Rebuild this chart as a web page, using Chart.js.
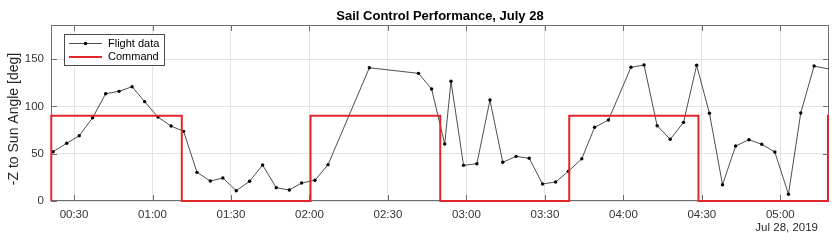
<!DOCTYPE html>
<html><head><meta charset="utf-8">
<script src="https://cdn.jsdelivr.net/npm/chart.js@4"></script>
<style>html,body{margin:0;padding:0;background:#fff}canvas{display:block}</style>
</head><body>
<canvas id="c" width="840" height="246"></canvas>
<script>
// ---- data (time in minutes after 00:00, Jul 28 2019) ----
const flightTimes  = [22.0,27.2,32.0,37.1,42.1,47.2,52.2,57.0,62.1,67.1,71.9,77.0,82.1,86.9,92.0,97.1,102.1,107.3,112.3,117.0,122.1,127.1,142.9,161.7,166.7,171.7,174.1,178.9,184.0,189.0,193.9,199.0,204.0,209.1,214.1,219.0,224.1,229.0,234.3,242.9,247.9,252.9,257.9,263.0,268.0,272.9,277.9,282.9,288.0,292.9,297.9,303.1,307.8,312.9,320.0];
const flightAngles = [52.1,61.0,69.0,88.0,113.4,115.9,120.8,105.0,88.7,79.2,73.6,30.3,21.1,24.3,10.9,20.8,38.0,14.1,11.6,19.0,21.9,38.4,140.8,134.9,118.3,60.2,126.5,37.7,39.4,106.7,40.9,47.2,45.1,18.0,20.1,31.4,44.7,77.9,85.6,141.3,143.7,79.6,65.2,83.1,143.4,92.7,17.2,58.1,64.8,59.9,51.8,7.1,93.0,142.6,138.7];
const commandTimes  = [21.3,21.3,71.2,120.4,170.0,219.3,268.7,318.2,318.6];
const commandAngles = [0,90,0,90,0,90,0,90,90];
const xTickValues = [30,60,90,120,150,180,210,240,270,300];
const xTickLabels = ['00:30','01:00','01:30','02:00','02:30','03:00','03:30','04:00','04:30','05:00'];
const yTickValues = [0,50,100,150];
const xLimits = [21.2, 318.6];
const yLimits = [0, 186];
const titleText = 'Sail Control Performance, July 28';
const yLabelText = '-Z to Sun Angle [deg]';
const dateText = 'Jul 28, 2019';
const seriesNames = ['Flight data','Command'];

const FONT = '"Liberation Sans", Arial, Helvetica, sans-serif';
Chart.defaults.font.family = FONT;

const flightData = flightTimes.map((t,i)=>({x:t,y:flightAngles[i]}));
const commandData = commandTimes.map((t,i)=>({x:t,y:commandAngles[i]}));

const deco = {
  id:'deco',
  beforeDatasetsDraw(chart){
    const ctx = chart.ctx, a = chart.chartArea;
    const xs = chart.scales.x, ys = chart.scales.y;
    ctx.save();
    ctx.strokeStyle = '#6e6e6e'; ctx.lineWidth = 1;
    ctx.strokeRect(Math.round(a.left)+0.5, Math.round(a.top)+0.5, Math.round(a.right-a.left)-1, Math.round(a.bottom-a.top)-1);
    const tl = 6;
    ctx.beginPath();
    xTickValues.forEach(v=>{
      const px = Math.round(xs.getPixelForValue(v))+0.5;
      ctx.moveTo(px, a.bottom); ctx.lineTo(px, a.bottom - tl);
      ctx.moveTo(px, a.top); ctx.lineTo(px, a.top + tl);
    });
    yTickValues.forEach(v=>{
      const py = Math.round(ys.getPixelForValue(v))+0.5;
      ctx.moveTo(a.left, py); ctx.lineTo(a.left + tl, py);
      ctx.moveTo(a.right, py); ctx.lineTo(a.right - tl, py);
    });
    ctx.stroke();
    ctx.restore();
  },
  afterDraw(chart){
    const ctx = chart.ctx, a = chart.chartArea;
    ctx.save();
    ctx.fillStyle = '#000';
    ctx.font = 'bold 13px ' + FONT;
    ctx.textAlign = 'center'; ctx.textBaseline = 'middle';
    ctx.fillText(titleText, (a.left+a.right)/2, 16);
    ctx.save();
    ctx.translate(14, 119);
    ctx.rotate(-Math.PI/2);
    ctx.fillStyle = '#262626';
    ctx.font = '14px ' + FONT;
    ctx.fillText(yLabelText, 0, 0);
    ctx.restore();
    ctx.fillStyle = '#262626';
    ctx.font = '11.5px ' + FONT;
    ctx.textAlign = 'right'; ctx.textBaseline = 'middle';
    ctx.fillText(dateText, 818, 228);
    const lx = 64.5, ly = 34.5, lw = 100, lh = 31;
    ctx.fillStyle = '#fff';
    ctx.fillRect(lx, ly, lw, lh);
    ctx.strokeStyle = '#4a4a4a'; ctx.lineWidth = 1;
    ctx.strokeRect(lx, ly, lw, lh);
    const ds = chart.data.datasets;
    const rows = [43.5, 57];
    ctx.strokeStyle = ds[0].borderColor; ctx.lineWidth = ds[0].borderWidth;
    ctx.beginPath(); ctx.moveTo(69, rows[0]); ctx.lineTo(102, rows[0]); ctx.stroke();
    ctx.fillStyle = ds[0].pointBackgroundColor;
    ctx.beginPath(); ctx.arc(85.5, rows[0], ds[0].pointRadius, 0, Math.PI*2); ctx.fill();
    ctx.strokeStyle = ds[1].borderColor; ctx.lineWidth = ds[1].borderWidth;
    ctx.beginPath(); ctx.moveTo(69, rows[1]); ctx.lineTo(102, rows[1]); ctx.stroke();
    ctx.fillStyle = '#000';
    ctx.font = '11px ' + FONT;
    ctx.textAlign = 'left'; ctx.textBaseline = 'middle';
    ctx.fillText(ds[0].label, 108, rows[0]);
    ctx.fillText(ds[1].label, 108, rows[1]);
    ctx.restore();
  }
};

new Chart(document.getElementById('c'), {
  type:'line',
  data:{datasets:[
    {label:seriesNames[0], data:flightData, borderColor:'#3a3a3a', borderWidth:0.9, tension:0,
     pointRadius:1.7, pointBackgroundColor:'#000', pointBorderWidth:0, order:1},
    {label:seriesNames[1], data:commandData, borderColor:'#e3262b', borderWidth:2, stepped:true,
     pointRadius:0, order:0, clip:4}
  ]},
  options:{
    responsive:false, animation:false, events:[],
    layout:{padding:{left:0,right:11,top:25,bottom:0}},
    plugins:{legend:{display:false}, title:{display:false}, tooltip:{enabled:false}},
    scales:{
      x:{type:'linear', min:xLimits[0], max:xLimits[1],
        afterBuildTicks:(s)=>{s.ticks = xTickValues.map(v=>({value:v}));},
        afterFit:(s)=>{s.height = 45;},
        ticks:{autoSkip:false, maxRotation:0, padding:7, color:'#333', font:{size:11.5},
          callback:(v)=>xTickLabels[xTickValues.indexOf(v)]},
        grid:{color:'#e4e4e4', drawTicks:false}, border:{display:false}},
      y:{type:'linear', min:yLimits[0], max:yLimits[1],
        afterBuildTicks:(s)=>{s.ticks = yTickValues.map(v=>({value:v}));},
        afterFit:(s)=>{s.width = 51;},
        ticks:{padding:7, color:'#333', font:{size:11.5}},
        grid:{color:'#e4e4e4', drawTicks:false}, border:{display:false}}
    }
  },
  plugins:[deco]
});
</script>
</body></html>
